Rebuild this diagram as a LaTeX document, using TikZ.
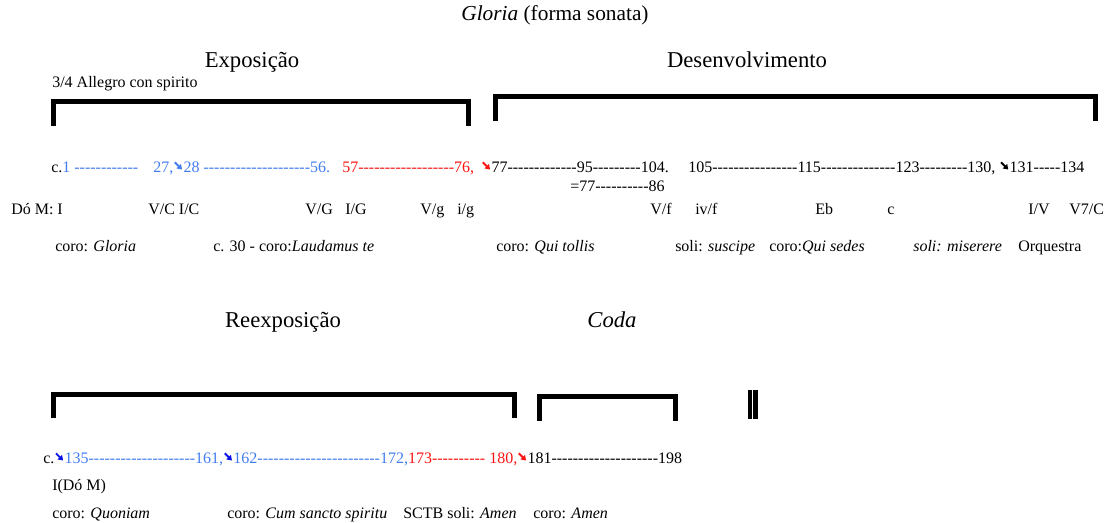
\documentclass[tikz,border=0pt]{standalone}
\usepackage{fontspec}
\setmainfont[Ligatures=TeXOff]{Liberation Serif}
\usetikzlibrary{arrows.meta}
\definecolor{secblue}{RGB}{66,125,240}
\definecolor{secred}{RGB}{250,20,20}
\definecolor{deepblue}{RGB}{10,20,230}
% small raised return arrow between bar numbers
\newcommand\turn[1][black]{\kern0.5pt\tikz[baseline=0pt]\draw[#1, line width=1.4pt,
  -{Triangle[length=3.6pt,width=4.6pt]}] (0pt,8pt) -- (5.4pt,2.6pt);\kern0.4pt}
% a run of hyphens
\newcommand\dd[1]{\foreach\k in {1,...,#1}{-}}
\tikzset{
  txt/.style={anchor=base west, inner sep=0pt, font=\fontsize{12}{14}\selectfont},
  head/.style={anchor=base, inner sep=0pt, font=\fontsize{17}{20}\selectfont},
  bracket/.style={line width=3.75pt, line join=miter, line cap=butt},
  bar/.style={line width=3.2pt, line cap=butt}
}
\begin{document}
\begin{tikzpicture}[x=0.75pt, y=-0.75pt]
\useasboundingbox (0,0) rectangle (1110,523);

% titles
\node[head, font=\fontsize{16}{19}\selectfont] (title) at (555,21) {\textit{Gloria} (forma sonata)};
\node[head] (expo) at (252,68) {Exposição};
\node[head] (desenv) at (747,68) {Desenvolvimento};
\node[txt] (tempo) at (52,88) {3/4 Allegro con spirito};
\node[head] (reexpo) at (283,328) {Reexposição};
\node[head] (coda) at (612,328) {\textit{Coda}};

% section brackets
\draw[bracket] (53,126) -- (53,101.5) -- (468,101.5) -- (468,126);
\draw[bracket] (495.5,121.5) -- (495.5,96.5) -- (1095,96.5) -- (1095,121.5);
\draw[bracket] (53,418) -- (53,395) -- (514,395) -- (514,418);
\draw[bracket] (539.5,421) -- (539.5,396.5) -- (675.5,396.5) -- (675.5,421);
% double bar
\draw[bar] (750,390) -- (750,419);
\draw[bar] (755.5,390) -- (755.5,419);

% bar numbers, first system
\node[txt] (m1) at (51,173) {c.\textcolor{secblue}{1 \dd{12}}};
\node[txt] (m27) at (153,173) {\color{secblue}27,\turn[secblue]28 \dd{20}56.};
\node[txt] (m57) at (342,173) {\color{secred}57\dd{18}76,};
\node[txt] (m77) at (481,173) {\turn[secred]77\dd{13}95\dd{9}104.};
\node[txt] (m105) at (688,173) {105\dd{16}115\dd{14}123\dd{9}130, \turn131\dd{5}134};
\node[txt] (m77b) at (570,192) {=77\dd{10}86};

% harmonic areas
\node[txt] (k1) at (11,215) {Dó M: I};
\node[txt] (k2) at (148,215) {V/C I/C};
\node[txt] (k3) at (305,215) {V/G};
\node[txt] (k4) at (345,215) {I/G};
\node[txt] (k5) at (420,215) {V/g};
\node[txt] (k6) at (457,215) {i/g};
\node[txt] (k7) at (650,215) {V/f};
\node[txt] (k8) at (695,215) {iv/f};
\node[txt] (k9) at (815,215) {Eb};
\node[txt] (k10) at (887,215) {c};
\node[txt] (k11) at (1028,215) {I/V};
\node[txt] (k12) at (1069,215) {V7/C};

% texts and forces
\node[txt] (t1) at (55,252) {coro: \textit{Gloria}};
\node[txt] (t2) at (213,252) {c. 30 - coro:\textit{Laudamus te}};
\node[txt] (t3) at (496,252) {coro: \textit{Qui tollis}};
\node[txt] (t4) at (675,252) {soli: \textit{suscipe}};
\node[txt] (t5) at (769,252) {coro:\textit{Qui sedes}};
\node[txt] (t6) at (913,252) {\textit{soli: miserere}};
\node[txt] (t7) at (1018,252) {Orquestra};

% bar numbers, second system
\node[txt] (m135) at (43,464) {c.\turn[deepblue]\textcolor{secblue}{135\dd{20}161,}\turn[deepblue]\textcolor{secblue}{162\dd{23}172,}\textcolor{secred}{173\dd{10} 180,}\turn[secred]181\dd{20}198};
\node[txt] (k13) at (52,491) {I(Dó M)};

\node[txt] (u1) at (52,518) {coro: \textit{Quoniam}};
\node[txt] (u2) at (227,518) {coro: \textit{Cum sancto spiritu}};
\node[txt] (u3) at (403,518) {SCTB soli: \textit{Amen}};
\node[txt] (u4) at (533,518) {coro: \textit{Amen}};
\end{tikzpicture}
\end{document}
